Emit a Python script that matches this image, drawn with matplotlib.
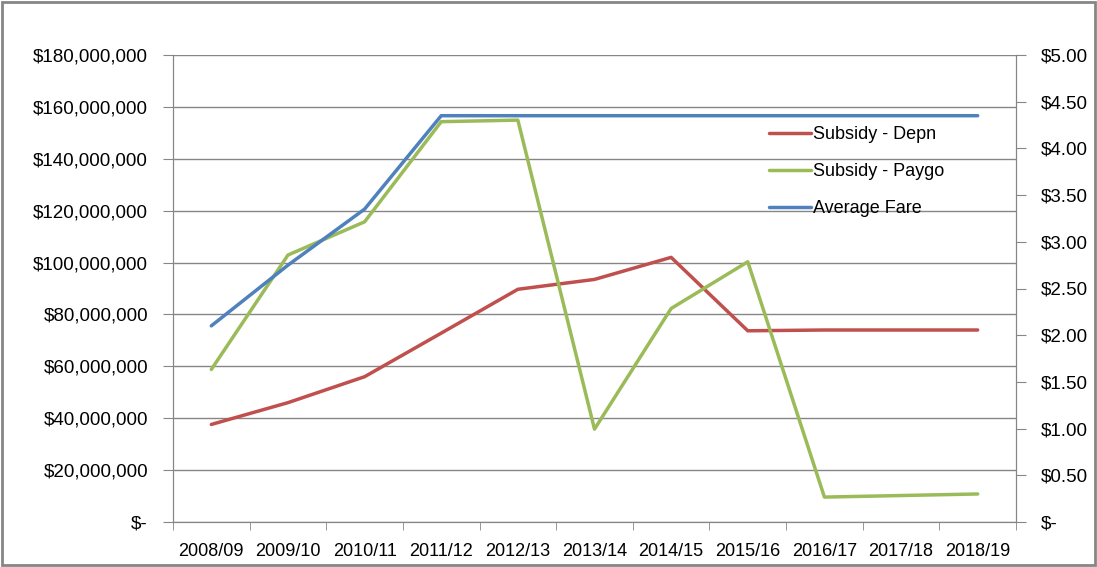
import matplotlib
matplotlib.use('Agg')
import matplotlib.pyplot as plt
from matplotlib.ticker import FuncFormatter, MultipleLocator
from matplotlib.patches import Rectangle

years = ['2008/09', '2009/10', '2010/11', '2011/12', '2012/13', '2013/14',
         '2014/15', '2015/16', '2016/17', '2017/18', '2018/19']
subsidy_depn = [37.6e6, 46.0e6, 56.0e6, 72.8e6, 89.7e6, 93.5e6,
                102.0e6, 73.7e6, 74.0e6, 74.0e6, 74.0e6]
subsidy_paygo = [58.8e6, 102.9e6, 115.7e6, 154.3e6, 154.9e6, 35.8e6,
                 82.3e6, 100.3e6, 9.6e6, 10.2e6, 10.8e6]
average_fare = [2.10, 2.75, 3.35, 4.35, 4.35, 4.35, 4.35, 4.35, 4.35, 4.35, 4.35]

plt.rcParams['font.family'] = ['Liberation Sans Narrow', 'Liberation Sans', 'DejaVu Sans']
grey = '#868686'

fig = plt.figure(figsize=(10.97, 5.67), dpi=100)
ax = fig.add_axes([173 / 1097, 1 - 522 / 567, (1016 - 173) / 1097, (522 - 55) / 567])
ax2 = ax.twinx()

x = list(range(len(years)))
ax.plot(x, subsidy_depn, color='#C0504D', lw=2.5, label='Subsidy - Depn', solid_capstyle='round')
ax.plot(x, subsidy_paygo, color='#9BBB59', lw=2.5, label='Subsidy - Paygo', solid_capstyle='round')
ax2.plot(x, average_fare, color='#4F81BD', lw=2.5, label='Average Fare', solid_capstyle='round')

ax.set_xlim(-0.5, len(years) - 0.5)
ax.set_ylim(0, 180e6)
ax2.set_ylim(0, 5)
ax.yaxis.set_major_locator(MultipleLocator(20e6))
ax2.yaxis.set_major_locator(MultipleLocator(0.5))
ax.yaxis.set_major_formatter(FuncFormatter(lambda v, p: '$-' if v == 0 else '${:,.0f}'.format(v)))
ax2.yaxis.set_major_formatter(FuncFormatter(lambda v, p: '$-' if v == 0 else '${:.2f}'.format(v)))

ax.set_xticks(x)
ax.set_xticklabels(years)
ax.set_xticks([i - 0.5 for i in range(len(years) + 1)], minor=True)
ax.tick_params(axis='x', which='major', length=0, labelsize=13, pad=15)
ax.tick_params(axis='x', which='minor', length=6, color=grey, direction='out')
ax.tick_params(axis='y', length=7, color=grey, labelsize=13.5, pad=11)
ax2.tick_params(axis='y', length=7, color=grey, labelsize=13.5, pad=11)

ax.grid(axis='y', color=grey, lw=1)
for a in (ax, ax2):
    a.spines['top'].set_visible(False)
    for s in ('left', 'right', 'bottom'):
        a.spines[s].set_color(grey)
ax.set_axisbelow(True)

h1, l1 = ax.get_legend_handles_labels()
h2, l2 = ax2.get_legend_handles_labels()
ax2.legend(h1 + h2, l1 + l2, loc='upper left', bbox_to_anchor=(753 / 1097, 1 - 110 / 567),
           bbox_transform=fig.transFigure, frameon=False,
           fontsize=13, handlelength=2.3, handletextpad=0.15, labelspacing=1.1)

fig.patches.append(Rectangle((0.002, 0.003), 0.996, 0.994, transform=fig.transFigure,
                             fill=False, edgecolor=grey, lw=2))

fig.savefig('out.png', dpi=100)
